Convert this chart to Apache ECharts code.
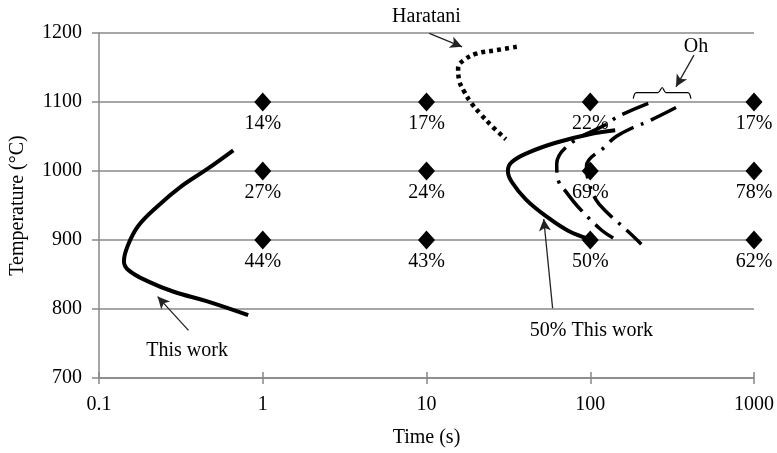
<!DOCTYPE html>
<html>
<head>
<meta charset="utf-8">
<script src="https://cdn.jsdelivr.net/npm/echarts@6/dist/echarts.min.js"></script>
<style>html,body{margin:0;padding:0;background:#fff}#c{width:777px;height:453px}</style>
</head>
<body>
<div id="c"></div>
<script>
// ---- data ----
var xTickLabels = ['0.1', '1', '10', '100', '1000'];
var pointTimes = [1, 10, 100, 1000];
var pointTemps = [1100, 1000, 900];
var pointLabels = [
  ['14%', '17%', '22%', '17%'],
  ['27%', '24%', '69%', '78%'],
  ['44%', '43%', '50%', '62%']
];
var thisWork = [[0.661,1030],[0.459,1003],[0.315,977],[0.228,949],[0.173,920],[0.150,892],[0.142,869],[0.152,856],[0.199,840],[0.286,825],[0.459,811],[0.815,791]];
var thisWork50 = [[142,1059],[97.5,1053],[61.5,1041],[42.2,1027],[33.2,1013],[31.4,1000],[33.2,984],[40.4,959],[53.4,935],[73.8,913],[97.5,902]];
var haratani = [[35.6,1180],[26.5,1175],[20.1,1170],[17.0,1161],[15.6,1150],[15.8,1132],[17.0,1115],[18.7,1099],[21.5,1082],[25.1,1065],[30.5,1046]];
var ohA = [[226,1098],[148,1079],[124,1067],[76.9,1041],[62.4,1010],[64.1,985],[71.6,969],[83.6,949],[115,916],[138,903]];
var ohB = [[334,1092],[226,1072],[183,1063],[144,1050],[124,1036],[94.8,1007],[97.5,985],[108,959],[124,942],[171,912],[205,894]];
var ohBrace = [[183,1105],[191,1113.5],[259,1113.5],[275,1121],[290,1113.5],[395,1113.5],[412,1105]];
var annotTexts = [
  {name: 'Haratani', value: [10.0, 1224]},
  {name: 'Oh', value: [442, 1180]},
  {name: 'This work', value: [0.345, 739]},
  {name: '50% This work', value: [101.7, 768]}
];
var annotArrows = [
  [[10.4, 1199.5], [16.5, 1180]],
  [[430, 1168], [334, 1122]],
  [[0.352, 769], [0.228, 818]],
  [[58.9, 801], [52.0, 930.5]]
];

// ---- build ----
var FONT = 'Liberation Serif';
var TXT = '#000';
var diamonds = [];
pointTemps.forEach(function (t, i) {
  pointTimes.forEach(function (x, j) {
    diamonds.push({value: [x, t], label: {formatter: pointLabels[i][j]}});
  });
});
function curve(data, lineStyle) {
  return {type: 'line', data: data, smooth: 0.4, symbol: 'none', clip: false,
    lineStyle: Object.assign({color: '#000', opacity: 1}, lineStyle), z: 3};
}
var option = {
  animation: false,
  grid: {left: 99, right: 20, top: 33, bottom: 72},
  xAxis: [{
    type: 'log', logBase: 10, min: 0.1, max: 1000,
    name: 'Time (s)', nameLocation: 'middle', nameGap: 50,
    nameTextStyle: {fontFamily: FONT, fontSize: 20, color: TXT},
    axisLine: {lineStyle: {color: '#888', width: 1.5}},
    axisTick: {show: true, length: 6, lineStyle: {color: '#888', width: 1.5}},
    axisLabel: {margin: 17, fontFamily: FONT, fontSize: 20, color: TXT,
      formatter: function (v) { var k = Math.round(Math.log10(v)) + 1; return xTickLabels[k] || ''; }},
    splitLine: {show: false}, minorTick: {show: false}
  }, {
    type: 'log', logBase: 10, min: 0.1, max: 1000, position: 'bottom',
    axisLine: {show: false},
    axisTick: {show: true, inside: true, length: 6, lineStyle: {color: '#888', width: 1.5}},
    axisLabel: {show: false}, splitLine: {show: false}
  }],
  yAxis: {
    type: 'value', min: 700, max: 1200, interval: 100,
    name: 'Temperature (°C)', nameLocation: 'middle', nameGap: 71,
    nameTextStyle: {fontFamily: FONT, fontSize: 20, color: TXT},
    axisLine: {show: true, lineStyle: {color: '#888', width: 1.5}},
    axisTick: {show: true, length: 7, lineStyle: {color: '#888', width: 1.5}},
    axisLabel: {margin: 17, fontFamily: FONT, fontSize: 20, color: TXT,
      formatter: function (v) { return String(v); }},
    splitLine: {show: true, lineStyle: {color: '#888', width: 1.5}}
  },
  series: [
    curve(thisWork, {width: 4}),
    curve(thisWork50, {width: 4}),
    curve(haratani, {width: 4.5, type: [4, 4]}),
    curve(ohA, {width: 3.5, type: [28, 8, 3, 8]}),
    curve(ohB, {width: 3.5, type: [28, 8, 3, 8]}),
    {type: 'line', data: ohBrace, smooth: 0.3, symbol: 'none', clip: false,
      lineStyle: {color: '#000', width: 1.2}, z: 3},
    {type: 'scatter', data: diamonds, symbol: 'diamond', symbolSize: [17, 19], clip: false,
      itemStyle: {color: '#000', opacity: 1}, z: 5,
      label: {show: true, position: 'bottom', distance: 2, fontFamily: FONT, fontSize: 20, color: TXT, opacity: 1}},
    {type: 'scatter', data: annotTexts, symbolSize: 0, clip: false, silent: true,
      itemStyle: {opacity: 1},
      label: {show: true, position: 'inside', formatter: '{b}', fontFamily: FONT, fontSize: 20, color: TXT, opacity: 1},
      markLine: {silent: true, symbol: ['none', 'arrow'], symbolSize: [9, 12], animation: false,
        lineStyle: {color: '#222', width: 1.3, type: 'solid', opacity: 1}, label: {show: false},
        data: annotArrows.map(function (a) { return [{coord: a[0]}, {coord: a[1]}]; })}}
  ]
};
echarts.init(document.getElementById('c')).setOption(option);
</script>
</body>
</html>
